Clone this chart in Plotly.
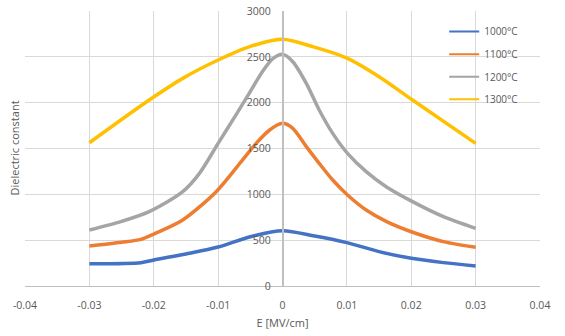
import plotly.graph_objects as go

# Data
E_1000 = [-0.03, -0.022, -0.02, -0.015, -0.01, -0.005, 0.0, 0.005, 0.01, 0.015, 0.02, 0.025, 0.03]
D_1000 = [243, 254, 284, 350, 425, 538, 603, 545, 473, 375, 302, 255, 218]

E_1100 = [-0.03, -0.025, -0.022, -0.02, -0.0155, -0.0103, -0.0062, -0.0041, -0.002, 0.0,
          0.0016, 0.0037, 0.0057, 0.0078, 0.0101, 0.013, 0.0161, 0.02, 0.025, 0.03]
D_1100 = [436, 477, 509, 567, 720, 1029, 1375, 1556, 1702, 1775,
          1720, 1520, 1338, 1156, 993, 829, 705, 592, 484, 422]

E_1200 = [-0.03, -0.025, -0.0207, -0.0155, -0.0129, -0.01, -0.0072, -0.0051, -0.0031, -0.0015, 0.0,
          0.0016, 0.0037, 0.0057, 0.0078, 0.0101, 0.013, 0.0161, 0.0202, 0.025, 0.03]
D_1200 = [611, 705, 811, 1029, 1229, 1556, 1870, 2110, 2340, 2480, 2528,
          2447, 2211, 1920, 1665, 1447, 1247, 1083, 920, 756, 629]

E_1300 = [-0.03, -0.0207, -0.0155, -0.01, -0.0051, 0.0, 0.0047, 0.0101, 0.015, 0.0202, 0.03]
D_1300 = [1563, 2029, 2265, 2465, 2611, 2691, 2611, 2483, 2283, 2029, 1556]

names = ["1000°C", "1100°C", "1200°C", "1300°C"]
colors = ["#4472C4", "#ED7D31", "#A5A5A5", "#FFC000"]
series = [(E_1000, D_1000), (E_1100, D_1100), (E_1200, D_1200), (E_1300, D_1300)]

x_ticks = [-0.04, -0.03, -0.02, -0.01, 0, 0.01, 0.02, 0.03, 0.04]
x_ticktext = ["-0.04", "-0.03", "-0.02", "-0.01", "0", "0.01", "0.02", "0.03", "0.04"]

fig = go.Figure()
for (x, y), n, c in zip(series, names, colors):
    fig.add_trace(go.Scatter(x=x, y=y, name=n, mode="lines", showlegend=False,
                             line=dict(color=c, width=3.5, shape="spline", smoothing=0.8)))
# legend entries with thinner line samples
for n, c in zip(names, colors):
    fig.add_trace(go.Scatter(x=[None], y=[None], name=n, mode="lines", legendgroup=n,
                             line=dict(color=c, width=2)))

font_c = "#595959"
fig.update_layout(
    width=565, height=336,
    margin=dict(l=25, r=25, t=11, b=50, autoexpand=False),
    paper_bgcolor="white", plot_bgcolor="white",
    font=dict(family="Open Sans, DejaVu Sans, sans-serif", size=10, color=font_c),
    showlegend=True,
    legend=dict(x=0.814, y=0.978, xanchor="left", yanchor="top", bgcolor="rgba(0,0,0,0)",
                font=dict(size=10, color=font_c), tracegroupgap=3.6, itemwidth=30),
    xaxis=dict(range=[-0.04, 0.04], tickvals=x_ticks, ticktext=x_ticktext,
               showgrid=True, gridcolor="#D9D9D9", automargin=False,
               gridwidth=1, zeroline=False, showline=True, linecolor="#BFBFBF", linewidth=1,
               ticks="", ticklabelstandoff=9, tickfont=dict(size=10.5, color=font_c),
               title=dict(text="E [MV/cm]", font=dict(size=11, color=font_c), standoff=8)),
    yaxis=dict(range=[0, 3000], dtick=500, showgrid=True, gridcolor="#D9D9D9", gridwidth=1,
               zeroline=False, showline=True, linecolor="#BFBFBF", linewidth=1.5,
               anchor="free", position=0.5, ticks="", ticklabelstandoff=9, automargin=False,
               tickfont=dict(size=10.5, color=font_c)),
    annotations=[dict(text="Dielectric constant", xref="paper", yref="paper", x=0, y=0.5,
                      xshift=-11, xanchor="center", yanchor="middle", textangle=-90,
                      showarrow=False, font=dict(size=11, color=font_c))],
)

fig.write_html("out.html")
